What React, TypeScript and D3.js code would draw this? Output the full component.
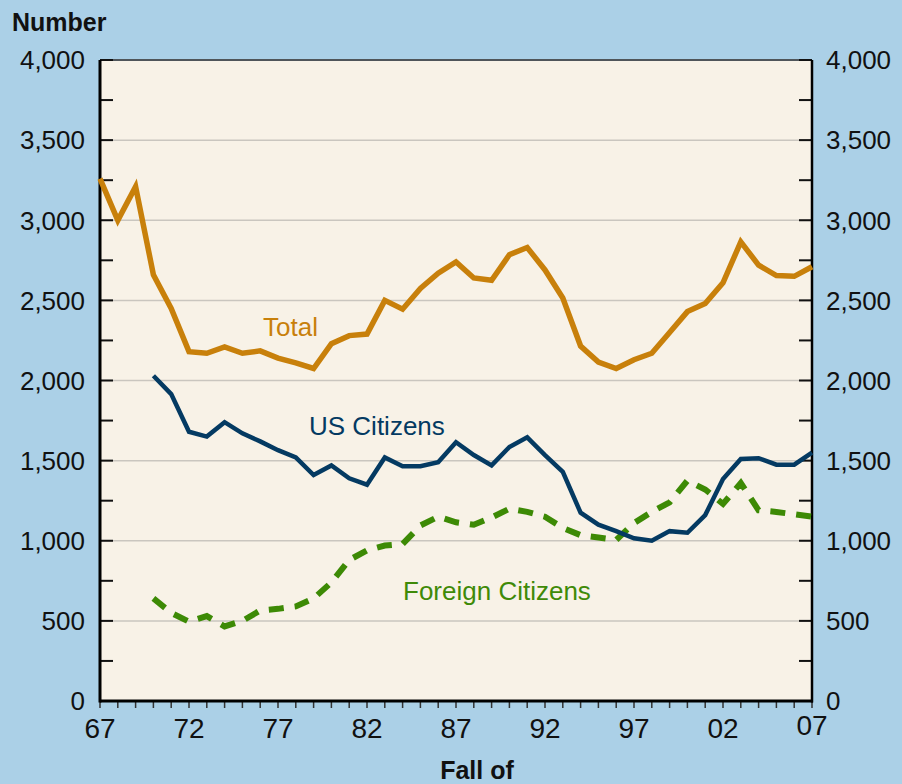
import React, { useRef, useEffect } from 'react';
import * as d3 from 'd3';

const years = d3.range(1967, 2008);

const total = [
  3260, 3000, 3210, 2660, 2450, 2180, 2170, 2210, 2170, 2185,
  2140, 2110, 2075, 2230, 2280, 2290, 2500, 2445, 2575, 2670,
  2740, 2640, 2625, 2785, 2830, 2690, 2515, 2215, 2115, 2075,
  2130, 2170, 2300, 2430, 2480, 2610, 2865, 2720, 2655, 2650,
  2710
];

// US and foreign series start in 1970
const usCitizens = [
  null, null, null, 2030, 1915, 1680, 1650, 1740, 1670, 1620,
  1565, 1520, 1410, 1470, 1390, 1350, 1520, 1465, 1465, 1490,
  1615, 1535, 1470, 1585, 1645, 1535, 1430, 1175, 1100, 1060,
  1015, 1000, 1060, 1050, 1160, 1385, 1510, 1515, 1475, 1475,
  1550
];

const foreignCitizens = [
  null, null, null, 640, 550, 495, 530, 465, 500, 565,
  575, 590, 640, 740, 880, 940, 970, 980, 1095, 1150,
  1115, 1100, 1145, 1200, 1180, 1150, 1080, 1035, 1020, 1005,
  1110, 1180, 1240, 1375, 1320, 1230, 1360, 1190, 1180, 1165,
  1150
];

const xTickYears = [1967, 1972, 1977, 1982, 1987, 1992, 1997, 2002, 2007];
const yTicks = [0, 500, 1000, 1500, 2000, 2500, 3000, 3500, 4000];

const FONT = '"Liberation Sans", Arial, Helvetica, sans-serif';

const App = () => {
  const ref = useRef<SVGSVGElement>(null);

  useEffect(() => {
    const svg = d3.select(ref.current);
    svg.selectAll('*').remove();

    const left = 100, right = 812, top = 60, bottom = 701;

    const x = d3.scaleLinear().domain([1967, 2007]).range([left, right]);
    const y = d3.scaleLinear().domain([0, 4000]).range([bottom, top]);

    svg.append('rect').attr('width', 902).attr('height', 784).attr('fill', '#abd0e7');
    svg.append('rect')
      .attr('x', left).attr('y', top)
      .attr('width', right - left).attr('height', bottom - top)
      .attr('fill', '#f8f2e7');

    // gridlines
    svg.append('g').selectAll('line')
      .data(yTicks.filter(d => d > 0 && d < 4000))
      .enter().append('line')
      .attr('x1', left).attr('x2', right)
      .attr('y1', d => y(d)).attr('y2', d => y(d))
      .attr('stroke', '#cac6bf').attr('stroke-width', 1.5);

    // top border
    svg.append('line')
      .attr('x1', left).attr('x2', right).attr('y1', top).attr('y2', top)
      .attr('stroke', '#4f555a').attr('stroke-width', 2);

    // y ticks both sides (every 250)
    const minor = d3.range(0, 4001, 250);
    svg.append('g').selectAll('line')
      .data(minor).enter().append('line')
      .attr('x1', left).attr('x2', left + 13)
      .attr('y1', d => y(d)).attr('y2', d => y(d))
      .attr('stroke', '#111').attr('stroke-width', 2);
    svg.append('g').selectAll('line')
      .data(minor).enter().append('line')
      .attr('x1', right - 13).attr('x2', right)
      .attr('y1', d => y(d)).attr('y2', d => y(d))
      .attr('stroke', '#111').attr('stroke-width', 2);

    // x ticks every year
    svg.append('g').selectAll('line')
      .data(years).enter().append('line')
      .attr('x1', d => x(d)).attr('x2', d => x(d))
      .attr('y1', bottom).attr('y2', bottom + 7)
      .attr('stroke', '#333').attr('stroke-width', 1.5);

    // axis lines
    svg.append('line')
      .attr('x1', left).attr('x2', left).attr('y1', top).attr('y2', bottom + 1.5)
      .attr('stroke', '#000').attr('stroke-width', 3);
    svg.append('line')
      .attr('x1', right).attr('x2', right).attr('y1', top).attr('y2', bottom + 1.5)
      .attr('stroke', '#000').attr('stroke-width', 2.5);
    svg.append('line')
      .attr('x1', left).attr('x2', right + 1).attr('y1', bottom).attr('y2', bottom)
      .attr('stroke', '#000').attr('stroke-width', 3);

    const fmt = d3.format(',');

    svg.append('g').selectAll('text')
      .data(yTicks).enter().append('text')
      .attr('x', 85).attr('y', d => y(d)).attr('dy', '0.36em')
      .attr('text-anchor', 'end')
      .attr('font-family', FONT).attr('font-size', 26).attr('fill', '#111')
      .text(d => fmt(d));
    svg.append('g').selectAll('text')
      .data(yTicks).enter().append('text')
      .attr('x', 826).attr('y', d => y(d)).attr('dy', '0.36em')
      .attr('text-anchor', 'start')
      .attr('font-family', FONT).attr('font-size', 26).attr('fill', '#111')
      .text(d => fmt(d));

    svg.append('g').selectAll('text')
      .data(xTickYears).enter().append('text')
      .attr('x', d => x(d)).attr('y', d => (d === 2007 ? 735 : 738))
      .attr('text-anchor', 'middle')
      .attr('font-family', FONT).attr('font-size', 28).attr('fill', '#111')
      .text(d => String(d % 100).padStart(2, '0'));

    svg.append('text')
      .attr('x', 12).attr('y', 31)
      .attr('font-family', FONT).attr('font-size', 25).attr('font-weight', 'bold')
      .attr('fill', '#111').text('Number');
    svg.append('text')
      .attr('x', 477).attr('y', 779).attr('text-anchor', 'middle')
      .attr('font-family', FONT).attr('font-size', 25).attr('font-weight', 'bold')
      .attr('fill', '#111').text('Fall of');

    const line = d3.line<number | null>()
      .defined(d => d !== null)
      .x((_, i) => x(years[i]))
      .y(d => y(d as number));

    const plot = svg.append('g');
    plot.append('path')
      .attr('d', line(foreignCitizens))
      .attr('fill', 'none').attr('stroke', '#3d8a05')
      .attr('stroke-width', 6).attr('stroke-dasharray', '15 11');
    plot.append('path')
      .attr('d', line(usCitizens))
      .attr('fill', 'none').attr('stroke', '#043a62')
      .attr('stroke-width', 4.5).attr('stroke-linejoin', 'miter');
    plot.append('path')
      .attr('d', line(total))
      .attr('fill', 'none').attr('stroke', '#c8800b')
      .attr('stroke-width', 5.5).attr('stroke-linejoin', 'miter');

    const labels = [
      { text: 'Total', x: 263, y: 336, color: '#c8800b' },
      { text: 'US Citizens', x: 309, y: 435, color: '#043a62' },
      { text: 'Foreign Citizens', x: 403, y: 600, color: '#3f8a08' }
    ];
    svg.append('g').selectAll('text')
      .data(labels).enter().append('text')
      .attr('x', d => d.x).attr('y', d => d.y)
      .attr('font-family', FONT).attr('font-size', 26)
      .attr('fill', d => d.color)
      .text(d => d.text);
  }, []);

  return (
    <svg ref={ref} width={902} height={784}
      style={{ position: 'absolute', left: 0, top: 0, display: 'block' }} />
  );
};

export default App;
